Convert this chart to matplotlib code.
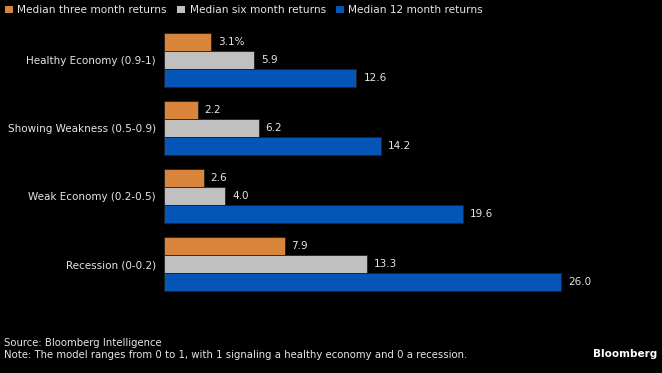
import numpy as np
import matplotlib.pyplot as plt
from matplotlib.patches import Patch

# --- data ---
categories = ["Healthy Economy (0.9-1)", "Showing Weakness (0.5-0.9)",
              "Weak Economy (0.2-0.5)", "Recession (0-0.2)"]
three_month = [3.1, 2.2, 2.6, 7.9]
six_month = [5.9, 6.2, 4.0, 13.3]
twelve_month = [12.6, 14.2, 19.6, 26.0]
series_names = ["Median three month returns", "Median six month returns",
                "Median 12 month returns"]

colors = ["#d9843b", "#c0c0c0", "#0455b5"]
text_col = "#e6e6e6"
bg = "#000000"

plt.rcParams["font.family"] = "DejaVu Sans"

fig = plt.figure(figsize=(6.62, 3.73), dpi=100, facecolor=bg)
W, H = 662, 373
# axes from x=164..660 px, y=25..300 px
ax = fig.add_axes([164 / W, 1 - 300 / H, (660 - 164) / W, (300 - 25) / H])
ax.set_facecolor(bg)

group_gap = 68
bar_h = 18
centers = np.arange(len(categories)) * group_gap

series = [three_month, six_month, twelve_month]
for k, vals in enumerate(series):
    ypos = centers + (k - 1) * bar_h
    ax.barh(ypos, vals, height=bar_h, color=colors[k], edgecolor="#222222", linewidth=0.6)
    for y, v in zip(ypos, vals):
        lab = f"{v:.1f}%" if (k == 0 and y == ypos[0]) else f"{v:.1f}"
        ax.annotate(lab, (v, y), xytext=(5, 0), textcoords="offset points",
                    va="center", ha="left", color=text_col, fontsize=7.5)

ax.set_xlim(0, (660 - 164) / 15.27)
ax.set_ylim(300 - 60, 25 - 60)
ax.set_yticks(centers)
ax.set_yticklabels(categories, color=text_col, fontsize=7.5)
ax.tick_params(axis="y", length=0, pad=6)
ax.set_xticks([])
for s in ax.spines.values():
    s.set_visible(False)

handles = [Patch(facecolor=c, edgecolor="none") for c in colors]
fig.legend(handles, series_names, loc="upper left", bbox_to_anchor=(0.0, 1.0),
           ncol=3, frameon=False, fontsize=7.6, labelcolor=text_col,
           handlelength=0.75, handleheight=0.75, handletextpad=0.4,
           columnspacing=1.0, borderaxespad=0.3, borderpad=0.2)

fig.text(4 / W, 1 - 343 / H, "Source: Bloomberg Intelligence", color=text_col,
         fontsize=7.3, va="center", ha="left")
fig.text(4 / W, 1 - 355 / H,
         "Note: The model ranges from 0 to 1, with 1 signaling a healthy economy and 0 a recession.",
         color=text_col, fontsize=7.3, va="center", ha="left")
fig.text(657 / W, 1 - 354 / H, "Bloomberg", color="white", fontsize=7.5,
         fontweight="bold", va="center", ha="right")

fig.savefig("out.png", dpi=100, facecolor=bg)
